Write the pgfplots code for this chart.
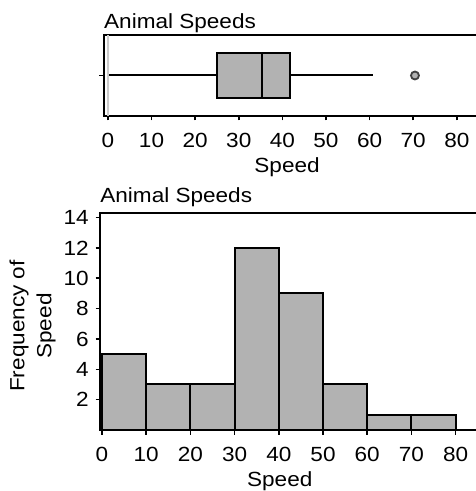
\documentclass[border=0pt]{standalone}
\usepackage{pgfplots}
\pgfplotsset{compat=1.18}
\usepgfplotslibrary{statistics}
\usepackage{fontspec}
\setmainfont{Liberation Sans}[FakeStretch=1.1]
\definecolor{bargray}{gray}{0.70}

\begin{document}
\fontsize{20.5}{25}\selectfont
\begin{tikzpicture}
\path[use as bounding box] (0pt,0pt) rectangle (476pt,491pt);
\pgfplotsset{every axis/.append style={
    scale only axis,
    axis line style={line width=2pt},
    tick style={black, line width=1.6pt},
    tick align=outside,
    major tick length=4.5pt,
    xtick pos=bottom, ytick pos=left,
    /pgf/number format/assume math mode=true,
    xticklabel style={yshift=-5.5pt},
    every axis title shift=0pt,
    title style={at={(0,1)}, anchor=base west, inner sep=0pt},
}}

% box plot
\begin{axis}[
    at={(104pt,375pt)}, anchor=south west,
    width=379pt, height=81pt,
    xmin=-0.9, xmax=86, ymin=-1, ymax=1,
    xtick={0,10,...,80}, ytick={0}, yticklabels={},
    title={Animal Speeds}, title style={yshift=6pt},
    xlabel={Speed},
    xlabel style={at={(axis description cs:0.483,0)}, anchor=base, yshift=-57pt, inner sep=0pt},
    boxplot/every whisker/.style={line width=2pt},
    boxplot/every median/.style={line width=2pt},
    boxplot/every box/.style={line width=2pt},
]
\addplot[gray!40, line width=1.5pt] coordinates {(0,-1) (0,1)};
\addplot[
    boxplot prepared={
        lower whisker=0.3, lower quartile=25, median=35.3,
        upper quartile=41.7, upper whisker=60.7,
        draw position=0, box extend=1.13, whisker extend=0},
    draw=black, fill=bargray, line width=2pt,
    mark=*, mark size=4pt, mark options={fill=bargray, draw=black!75, line width=1.8pt},
] coordinates {(0,70.4)};
\end{axis}

% histogram
\begin{axis}[
    at={(100.2pt,61pt)}, anchor=south west,
    width=382pt, height=217pt,
    xmin=-0.4, xmax=86, ymin=0, ymax=14.3,
    xtick={0,10,...,80}, ytick={2,4,...,14},
    title={Animal Speeds}, title style={yshift=10pt},
    xlabel={Speed},
    xlabel style={at={(axis description cs:0.47,0)}, anchor=base, yshift=-56pt, inner sep=0pt},
]
\addplot[ybar interval, fill=bargray, draw=black, line width=2pt]
    coordinates {(0,5) (10,3) (20,3) (30,12) (40,9) (50,3) (60,1) (70,1) (80,1)};
\end{axis}

\node[rotate=90, align=center, font=\fontsize{20.5}{27}\selectfont] at (32.5pt,165pt) {Frequency of\\Speed};
\end{tikzpicture}
\end{document}
